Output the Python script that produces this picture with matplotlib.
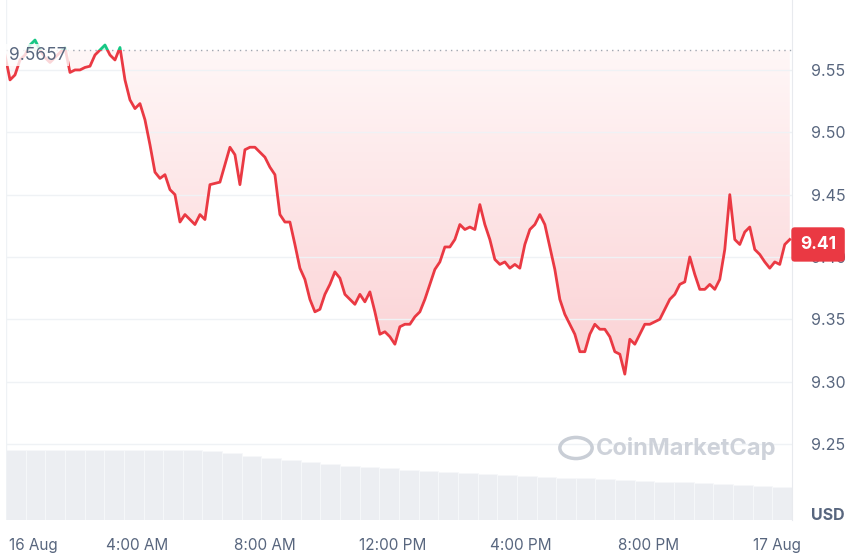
import numpy as np
import matplotlib.pyplot as plt
from matplotlib.patches import Rectangle, Circle, Polygon
from matplotlib.colors import LinearSegmentedColormap

prices = [9.562, 9.542, 9.546, 9.558, 9.562, 9.570, 9.574, 9.566, 9.560, 9.556,
          9.560, 9.564, 9.568, 9.548, 9.550, 9.550, 9.552, 9.553, 9.562, 9.566,
          9.570, 9.562, 9.558, 9.568, 9.542, 9.526, 9.519, 9.523, 9.510, 9.490,
          9.468, 9.463, 9.466, 9.454, 9.450, 9.428, 9.434, 9.430, 9.426, 9.434,
          9.430, 9.458, 9.459, 9.460, 9.474, 9.488, 9.482, 9.458, 9.486, 9.488,
          9.488, 9.484, 9.480, 9.472, 9.466, 9.434, 9.428, 9.428, 9.410, 9.391,
          9.382, 9.366, 9.356, 9.358, 9.370, 9.378, 9.388, 9.383, 9.370, 9.366,
          9.362, 9.370, 9.364, 9.372, 9.356, 9.338, 9.340, 9.336, 9.330, 9.344,
          9.346, 9.346, 9.352, 9.356, 9.366, 9.378, 9.390, 9.396, 9.408, 9.408,
          9.414, 9.426, 9.422, 9.424, 9.422, 9.442, 9.426, 9.414, 9.398, 9.394,
          9.396, 9.391, 9.394, 9.391, 9.410, 9.422, 9.426, 9.434, 9.426, 9.408,
          9.390, 9.366, 9.354, 9.346, 9.338, 9.324, 9.324, 9.338, 9.346, 9.342,
          9.342, 9.336, 9.324, 9.322, 9.306, 9.334, 9.330, 9.338, 9.346, 9.346,
          9.348, 9.350, 9.358, 9.366, 9.370, 9.378, 9.380, 9.400, 9.386, 9.374,
          9.374, 9.378, 9.374, 9.382, 9.406, 9.450, 9.414, 9.410, 9.420, 9.424,
          9.406, 9.402, 9.396, 9.391, 9.396, 9.394, 9.410, 9.414]
hours = np.linspace(-0.125, 24.4, len(prices))
ref_price = 9.5657
last_price = 9.41

volume = [70, 70, 70, 70, 70, 70, 70, 70, 70, 70, 69, 67, 64, 62, 60, 58, 56, 54, 53, 52,
          50, 49, 48, 47, 46, 45, 44, 43, 42, 42, 41, 40, 39, 38, 38, 37, 36, 35, 34, 33]

y_ticks = [9.25, 9.30, 9.35, 9.40, 9.45, 9.50, 9.55]
x_ticks = [0, 4, 8, 12, 16, 20, 24]
x_labels = ['16 Aug', '4:00 AM', '8:00 AM', '12:00 PM', '4:00 PM', '8:00 PM', '17 Aug']

RED = '#ea3943'
GREEN = '#16c784'
GREY = '#58667e'

plt.rcParams['font.family'] = ['Inter', 'DejaVu Sans']
fig = plt.figure(figsize=(8.5, 5.56), dpi=100)
pos = [6 / 850, 36 / 556, 786 / 850, 520 / 556]
ylo, yhi = 9.189, 9.6061
xlo, xhi = -0.094, 24.47

# volume bars behind
axv = fig.add_axes(pos)
vh = np.linspace(xlo, xhi, len(volume) + 1)
axv.bar(vh[:-1], volume, width=vh[1] - vh[0], align='edge', color='#eceef2',
        edgecolor='#f7f8fa', linewidth=0.6)
axv.set_xlim(xlo, xhi)
axv.set_ylim(0, 520)
axv.axis('off')

ax = fig.add_axes(pos)
ax.patch.set_alpha(0)
ax.set_xlim(xlo, xhi)
ax.set_ylim(ylo, yhi)
for s in ['top', 'left', 'bottom']:
    ax.spines[s].set_visible(False)
ax.spines['right'].set_color('#e8eaee')
ax.yaxis.tick_right()
ax.set_yticks(y_ticks)
ax.set_yticklabels([f'{v:.2f}' for v in y_ticks], fontsize=11.5, color=GREY)
ax.tick_params(axis='y', length=0, pad=14)
ax.set_xticks(x_ticks)
ax.set_xticklabels(x_labels, fontsize=11, color=GREY)
ax.get_xticklabels()[0].set_ha('left')
ax.tick_params(axis='x', length=0, pad=13)
ax.grid(axis='y', color='#eff2f5', linewidth=1)
ax.axvline(xlo + 0.01, color='#eff2f5', linewidth=1)

p = np.array(prices)
# gradient fill between line and reference (below reference only)
low = np.minimum(p, ref_price)
verts = np.vstack([np.column_stack([hours, low]),
                   [[hours[-1], ref_price], [hours[0], ref_price]]])
clip = Polygon(verts, closed=True, transform=ax.transData, facecolor='none', edgecolor='none')
ax.add_patch(clip)
grad = np.linspace(0.0, 1.0, 256).reshape(-1, 1)
cmap = LinearSegmentedColormap.from_list('r', ['#fbd0d3', '#fff7f7'])
img = ax.imshow(grad, extent=[xlo, xhi, 9.30, ref_price], aspect='auto',
                cmap=cmap, origin='lower', zorder=1)
img.set_clip_path(clip)
ax.set_xlim(xlo, xhi)
ax.set_ylim(ylo, yhi)
ax.fill_between(hours, p, ref_price, where=p > ref_price, interpolate=True,
                color=GREEN, alpha=0.18, linewidth=0, zorder=1)

lr, = ax.plot(hours, p, color=RED, linewidth=2, zorder=3)
lr.set_clip_path(Rectangle((xlo, ylo), xhi - xlo, ref_price - ylo, transform=ax.transData))
lg, = ax.plot(hours, p, color=GREEN, linewidth=2, zorder=3)
lg.set_clip_path(Rectangle((xlo, ref_price), xhi - xlo, yhi - ref_price, transform=ax.transData))

ax.axhline(ref_price, color='#a0a6b0', linewidth=1, linestyle=(0, (1, 3)), zorder=2)
ax.text(0.0, ref_price - 0.004, '9.5657', fontsize=12.5, color=GREY, va='center', ha='left',
        zorder=5, bbox=dict(boxstyle='square,pad=0.15', fc='white', ec='none', alpha=0.8))

ax.text(xhi + 0.25, last_price, '9.41', fontsize=12.5, fontweight='bold', color='white',
        va='center', ha='left', clip_on=False, zorder=6,
        bbox=dict(boxstyle='round,pad=0.5,rounding_size=0.2', fc=RED, ec='none'))

fig.text(828 / 850, 1 - 515 / 556, 'USD', fontsize=11.5, fontweight='bold',
         color=GREY, ha='center', va='center')

# watermark
fig.patches.append(Circle((576 / 850, 1 - 448 / 556), 0.019, transform=fig.transFigure,
                          fill=False, ec='#c9ced6', lw=2.5))
fig.text(596 / 850, 1 - 449 / 556, 'CoinMarketCap', fontsize=17, fontweight='bold',
         color='#c9ced6', ha='left', va='center', alpha=0.9)

fig.savefig('out.png', dpi=100)
